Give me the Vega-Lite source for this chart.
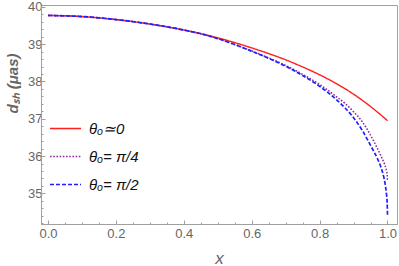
{
  "$schema": "https://vega.github.io/schema/vega-lite/v6.json",
  "width": 356,
  "height": 219,
  "autosize": {"type": "none"},
  "padding": {"left": 41, "top": 5, "right": 2, "bottom": 42},
  "config": {
    "font": "Liberation Sans",
    "view": {"stroke": "#a0a0a0", "strokeWidth": 1},
    "axis": {
      "grid": false,
      "domainColor": "#a0a0a0",
      "tickColor": "#a0a0a0",
      "labelColor": "#666666",
      "labelFontSize": 13,
      "titleColor": "#666666"
    },
    "legend": {
      "orient": "none",
      "legendX": 8,
      "legendY": 107,
      "padding": 0,
      "symbolType": "stroke",
      "symbolSize": 961,
      "symbolStrokeWidth": 1.5,
      "labelFontSize": 15,
      "labelFontStyle": "italic",
      "labelColor": "#111111",
      "labelOffset": 7,
      "rowPadding": 3
    }
  },
  "data": {
    "values": [
      {"x": 0, "d": 39.77, "case": "θₒ≃0"},
      {"x": 0.1, "d": 39.74, "case": "θₒ≃0"},
      {"x": 0.2, "d": 39.66, "case": "θₒ≃0"},
      {"x": 0.3, "d": 39.54, "case": "θₒ≃0"},
      {"x": 0.4, "d": 39.38, "case": "θₒ≃0"},
      {"x": 0.5, "d": 39.17, "case": "θₒ≃0"},
      {"x": 0.6, "d": 38.9, "case": "θₒ≃0"},
      {"x": 0.7, "d": 38.58, "case": "θₒ≃0"},
      {"x": 0.75, "d": 38.39, "case": "θₒ≃0"},
      {"x": 0.8, "d": 38.18, "case": "θₒ≃0"},
      {"x": 0.85, "d": 37.94, "case": "θₒ≃0"},
      {"x": 0.9, "d": 37.66, "case": "θₒ≃0"},
      {"x": 0.95, "d": 37.33, "case": "θₒ≃0"},
      {"x": 1.0, "d": 36.95, "case": "θₒ≃0"},

      {"x": 0, "d": 39.77, "case": "θₒ= π/4"},
      {"x": 0.1, "d": 39.74, "case": "θₒ= π/4"},
      {"x": 0.2, "d": 39.66, "case": "θₒ= π/4"},
      {"x": 0.3, "d": 39.54, "case": "θₒ= π/4"},
      {"x": 0.4, "d": 39.38, "case": "θₒ= π/4"},
      {"x": 0.45, "d": 39.28, "case": "θₒ= π/4"},
      {"x": 0.5, "d": 39.15, "case": "θₒ= π/4"},
      {"x": 0.55, "d": 38.99, "case": "θₒ= π/4"},
      {"x": 0.6, "d": 38.82, "case": "θₒ= π/4"},
      {"x": 0.65, "d": 38.63, "case": "θₒ= π/4"},
      {"x": 0.7, "d": 38.43, "case": "θₒ= π/4"},
      {"x": 0.75, "d": 38.19, "case": "θₒ= π/4"},
      {"x": 0.8, "d": 37.92, "case": "θₒ= π/4"},
      {"x": 0.85, "d": 37.59, "case": "θₒ= π/4"},
      {"x": 0.875, "d": 37.41, "case": "θₒ= π/4"},
      {"x": 0.9, "d": 37.19, "case": "θₒ= π/4"},
      {"x": 0.925, "d": 36.93, "case": "θₒ= π/4"},
      {"x": 0.938, "d": 36.75, "case": "θₒ= π/4"},
      {"x": 0.95, "d": 36.56, "case": "θₒ= π/4"},
      {"x": 0.96, "d": 36.39, "case": "θₒ= π/4"},
      {"x": 0.97, "d": 36.21, "case": "θₒ= π/4"},
      {"x": 0.98, "d": 36.02, "case": "θₒ= π/4"},
      {"x": 0.987, "d": 35.88, "case": "θₒ= π/4"},
      {"x": 0.992, "d": 35.77, "case": "θₒ= π/4"},
      {"x": 0.996, "d": 35.65, "case": "θₒ= π/4"},
      {"x": 0.998, "d": 35.57, "case": "θₒ= π/4"},
      {"x": 0.9993, "d": 35.48, "case": "θₒ= π/4"},
      {"x": 1.0, "d": 35.32, "case": "θₒ= π/4"},

      {"x": 0, "d": 39.77, "case": "θₒ= π/2"},
      {"x": 0.1, "d": 39.74, "case": "θₒ= π/2"},
      {"x": 0.2, "d": 39.66, "case": "θₒ= π/2"},
      {"x": 0.3, "d": 39.54, "case": "θₒ= π/2"},
      {"x": 0.4, "d": 39.38, "case": "θₒ= π/2"},
      {"x": 0.45, "d": 39.28, "case": "θₒ= π/2"},
      {"x": 0.5, "d": 39.15, "case": "θₒ= π/2"},
      {"x": 0.55, "d": 38.99, "case": "θₒ= π/2"},
      {"x": 0.6, "d": 38.81, "case": "θₒ= π/2"},
      {"x": 0.65, "d": 38.62, "case": "θₒ= π/2"},
      {"x": 0.7, "d": 38.41, "case": "θₒ= π/2"},
      {"x": 0.75, "d": 38.16, "case": "θₒ= π/2"},
      {"x": 0.8, "d": 37.87, "case": "θₒ= π/2"},
      {"x": 0.85, "d": 37.51, "case": "θₒ= π/2"},
      {"x": 0.875, "d": 37.29, "case": "θₒ= π/2"},
      {"x": 0.9, "d": 37.03, "case": "θₒ= π/2"},
      {"x": 0.925, "d": 36.7, "case": "θₒ= π/2"},
      {"x": 0.95, "d": 36.29, "case": "θₒ= π/2"},
      {"x": 0.96, "d": 36.12, "case": "θₒ= π/2"},
      {"x": 0.972, "d": 35.9, "case": "θₒ= π/2"},
      {"x": 0.98, "d": 35.72, "case": "θₒ= π/2"},
      {"x": 0.985, "d": 35.58, "case": "θₒ= π/2"},
      {"x": 0.99, "d": 35.4, "case": "θₒ= π/2"},
      {"x": 0.994, "d": 35.2, "case": "θₒ= π/2"},
      {"x": 0.997, "d": 34.98, "case": "θₒ= π/2"},
      {"x": 0.999, "d": 34.75, "case": "θₒ= π/2"},
      {"x": 1.0, "d": 34.42, "case": "θₒ= π/2"}
    ]
  },
  "layer": [
    {
      "mark": {"type": "line", "interpolate": "monotone"},
      "encoding": {
        "x": {
          "field": "x", "type": "quantitative",
          "scale": {"domain": [-0.0206, 1.028], "nice": false, "zero": false},
          "axis": {
            "values": [0, 0.2, 0.4, 0.6, 0.8, 1.0],
            "format": ".1f",
            "tickSize": -4,
            "labelPadding": 7,
            "title": "x",
            "titleFontSize": 17,
            "titleFontStyle": "italic",
            "titleFontWeight": "normal",
            "titleBaseline": "middle",
            "titleY": 34
          }
        },
        "y": {
          "field": "d", "type": "quantitative",
          "scale": {"domain": [34.18, 40.05], "nice": false, "zero": false},
          "axis": {
            "values": [35, 36, 37, 38, 39, 40],
            "tickSize": -4,
            "labelPadding": 3,
            "title": "dₛₕ (μas)",
            "titleFontSize": 15,
            "titleFontStyle": "italic",
            "titleFontWeight": "bold",
            "titleAngle": 270,
            "titleAlign": "center",
            "titleBaseline": "middle",
            "titleX": -29,
            "titleY": 78
          }
        },
        "color": {
          "field": "case", "type": "nominal",
          "scale": {"domain": ["θₒ≃0", "θₒ= π/4", "θₒ= π/2"], "range": ["#ff1f1f", "#8f2aa0", "#1f1fff"]},
          "legend": {"title": null}
        },
        "strokeDash": {
          "field": "case", "type": "nominal",
          "scale": {"domain": ["θₒ≃0", "θₒ= π/4", "θₒ= π/2"], "range": [[1, 0], [1.6, 1.6], [4, 2]]},
          "legend": {"title": null}
        },
        "strokeWidth": {
          "field": "case", "type": "nominal",
          "scale": {"domain": ["θₒ≃0", "θₒ= π/4", "θₒ= π/2"], "range": [1.4, 1.7, 1.5]},
          "legend": null
        }
      }
    },
    {
      "mark": {"type": "line", "opacity": 0},
      "encoding": {
        "x": {
          "field": "x", "type": "quantitative",
          "axis": {
            "orient": "bottom",
            "values": [0.05, 0.1, 0.15, 0.25, 0.3, 0.35, 0.45, 0.5, 0.55, 0.65, 0.7, 0.75, 0.85, 0.9, 0.95],
            "labels": false, "domain": false, "tickSize": -2, "title": null
          }
        },
        "y": {
          "field": "d", "type": "quantitative",
          "axis": {
            "orient": "left",
            "values": [34.2, 34.4, 34.6, 34.8, 35.2, 35.4, 35.6, 35.8, 36.2, 36.4, 36.6, 36.8, 37.2, 37.4, 37.6, 37.8, 38.2, 38.4, 38.6, 38.8, 39.2, 39.4, 39.6, 39.8],
            "labels": false, "domain": false, "tickSize": -2, "title": null
          }
        },
        "detail": {"field": "case", "type": "nominal"}
      }
    }
  ],
  "resolve": {"axis": {"x": "independent", "y": "independent"}}
}
